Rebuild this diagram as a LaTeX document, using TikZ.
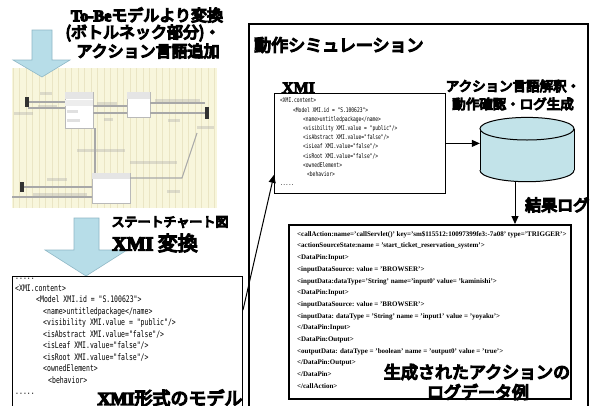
\documentclass[tikz,border=0pt]{standalone}
\usepackage{fontspec}
\setmainfont{Liberation Serif}
\newfontfamily\jp{Noto Sans CJK JP}
\newfontfamily\xmimono{DejaVu Sans Mono}[FakeStretch=0.72]
\usetikzlibrary{arrows.meta,calc}

% heavy strokes for the headline text (fill + outline)
\newcommand\heavy[2][1.3]{\special{pdf:literal direct 2 Tr #1 w}#2\special{pdf:literal direct 0 Tr}}

\definecolor{arrowfill}{HTML}{B7DDE8}
\definecolor{arrowline}{HTML}{8FB8C6}
\definecolor{cylfill}{HTML}{C2E3E9}
\definecolor{chartbg}{HTML}{F8F6DC}
\definecolor{chartgrid}{HTML}{EAE5C4}
\definecolor{chartline}{HTML}{A8A8A8}

\tikzset{
  blockarrow/.style={fill=arrowfill, draw=arrowline, line width=0.6pt},
  codebox/.style={draw, fill=white, anchor=north west, inner sep=0pt},
  codetext/.style={anchor=north west, align=left, inner sep=0pt},
  jlabel/.style={inner sep=0pt, font=\jp},
  link/.style={draw, line width=1pt, -{Triangle[length=8pt,width=7pt]}},
  smudge/.style={fill=chartline, opacity=0.35},
  chartedge/.style={draw=chartline, line width=1.1pt},
  chartstate/.style={draw=chartline!80, fill=white, line width=0.8pt},
}

\begin{document}
\begin{tikzpicture}[x=1pt, y=-1pt]
\useasboundingbox (0,0) rectangle (590,405);
\fill[white] (0,0) rectangle (590,405);

% ---- state chart thumbnail ----
\fill[chartbg] (12,68) rectangle (217,208);
\begin{scope}
  \clip (12,68) rectangle (217,208);
  \draw[chartgrid, line width=0.4pt, step=6.5] (12,68) grid (217,208);
\end{scope}
% states
\filldraw[chartstate] (65,92) rectangle (93,128);
\fill[gray!20] (65,92) rectangle (93,99);
\fill[gray!14] (65,100) rectangle (93,106);
\fill[smudge] (67,110) rectangle (78,112.5);
\fill[smudge] (67,119) rectangle (80,121.5);
\filldraw[chartstate] (127,92) rectangle (150,117);
\fill[gray!20] (127,92) rectangle (150,99);
\filldraw[chartstate] (92,173) rectangle (130,203);
\fill[gray!20] (92,173) rectangle (130,179);
% transitions
\draw[chartedge] (28,102) -- (65,102);
\draw[chartedge] (28,108) -- (65,108);
\draw[chartedge] (93,106) -- (127,106);
\draw[chartedge] (93,113) -- (127,113);
\draw[chartedge] (150,103) -- (205,103);
\draw[chartedge] (150,113) -- (205,113);
\draw[chartedge] (95,128) -- (95,173);
\draw[chartedge] (197,133) -- (182,178) -- (130,178);
\draw[chartedge] (24,187) -- (92,187);
\draw[chartedge] (12,197) -- (92,197);
% initial / final markers
\fill[black!80] (24.5,97) rectangle (28.5,107);
\fill[black!80] (205,107) rectangle (209,119);
\fill[black!80] (20,182) rectangle (24,192);
% blurred transition labels
\fill[smudge] (40,92) rectangle (52,95);
\fill[smudge] (14,112) rectangle (33,115);
\fill[smudge] (38,105) rectangle (57,107.5);
\fill[smudge] (97,102) rectangle (117,104.5);
\fill[smudge] (104,118) rectangle (113,120.5);
\fill[smudge] (155,99) rectangle (200,101.5);
\fill[smudge] (168,119) rectangle (180,121.5);
\fill[smudge] (197,126) rectangle (214,128.5);
\fill[smudge] (77,149) rectangle (125,151.5);
\fill[smudge] (130,161) rectangle (177,163.5);
\fill[smudge] (47,178) rectangle (67,180.5);
\fill[smudge] (33,193) rectangle (87,195.5);
\fill[smudge] (167,190) rectangle (180,192.5);

% ---- block arrows ----
\path[blockarrow] (32,30) -- (52,30) -- (52,60) -- (70,60) -- (42,77)
  -- (13,60) -- (32,60) -- cycle;
\path[blockarrow] (74,218) -- (99,218) -- (99,250) -- (127,250) -- (86,276)
  -- (45,250) -- (74,250) -- cycle;

% ---- left column labels ----
\node[jlabel] (convT1) at (147,15)
  {\fontsize{16}{18}\selectfont\heavy{{\rmfamily\bfseries To-Be}モデルより変換}};
\node[jlabel] (convT2) at (143,33)
  {\fontsize{16}{18}\selectfont\heavy{(ボトルネック部分)・}};
\node[jlabel] (convT3) at (148,51)
  {\fontsize{16}{18}\selectfont\heavy{アクション言語追加}};
\node[jlabel] (chartT) at (170,222)
  {\fontsize{13}{15}\selectfont\heavy[1.1]{ステートチャート図}};
\node[jlabel] (xmiConv) at (155,243)
  {\fontsize{20}{22}\selectfont\heavy{{\rmfamily\bfseries XMI} 変換}};

% ---- XMI model (left) ----
\node[codebox, line width=1pt, minimum width=230, minimum height=145]
  (xmiL) at (12,276) {};
\node[codetext, font=\xmimono\fontsize{9}{11.5}\selectfont] (xmiLcode) at (15,278) {%
.....\\
<XMI.content>\\
\hspace*{21pt}<Model XMI.id = "S.100623">\\
\hspace*{28pt}<name>untitledpackage</name>\\
\hspace*{28pt}<visibility XMI.value = "public"/>\\
\hspace*{28pt}<isAbstract XMI.value="false"/>\\
\hspace*{28pt}<isLeaf XMI.value="false"/>\\
\hspace*{28pt}<isRoot XMI.value="false"/>\\
\hspace*{28pt}<ownedElement>\\
\hspace*{33pt}<behavior>\\
.....};
\node[jlabel] (xmiLT) at (170,398)
  {\fontsize{18}{20}\selectfont\heavy{{\rmfamily\bfseries XMI}形式のモデル}};

% ---- simulation frame ----
\node[draw, line width=1.5pt, anchor=north west, inner sep=0pt,
  minimum width=339, minimum height=400] (sim) at (248,23) {};
\node[jlabel, anchor=west] (simT) at (254,45)
  {\fontsize{17}{20}\selectfont\heavy{動作シミュレーション}};

\node[inner sep=0pt, anchor=base, font=\rmfamily\bfseries\fontsize{16}{18}\selectfont]
  (xmiLab) at (298.5,93) {\heavy[0.8]{XMI}};
\node[codebox, line width=0.8pt, minimum width=171, minimum height=100]
  (xmiI) at (274,93) {};
\node[codetext, font=\xmimono\fontsize{6.4}{9.2}\selectfont] (xmiIcode) at (280,92.5) {%
.....\\
<XMI.content>\\
\hspace*{13pt}<Model XMI.id = "S.100623">\\
\hspace*{23pt}<name>untitledpackage</name>\\
\hspace*{23pt}<visibility XMI.value = "public"/>\\
\hspace*{23pt}<isAbstract XMI.value="false"/>\\
\hspace*{23pt}<isLeaf XMI.value="false"/>\\
\hspace*{23pt}<isRoot XMI.value="false"/>\\
\hspace*{23pt}<ownedElement>\\
\hspace*{27pt}<behavior>\\
.....};

% interpreter (cylinder)
\node[inner sep=0pt, minimum width=94, minimum height=64.4] (db) at (527,149.5) {};
\fill[cylfill] (480,128.7) rectangle (574,170.4);
\fill[cylfill] (527,170.4) ellipse [x radius=47, y radius=11.3];
\begin{scope}
  \clip (470,170.4) rectangle (580,190);
  \draw[line width=1pt] (527,170.4) ellipse [x radius=47, y radius=11.3];
\end{scope}
\draw[line width=1pt] (480,128.7) -- (480,170.4) (574,128.7) -- (574,170.4);
\filldraw[fill=cylfill, line width=1pt] (527,128.7) ellipse [x radius=47, y radius=11.3];

\node[jlabel] (dbT1) at (513,86)
  {\fontsize{13.5}{15}\selectfont\heavy[1.1]{アクション言語解釈・}};
\node[jlabel] (dbT2) at (513,104)
  {\fontsize{13.5}{15}\selectfont\heavy[1.1]{動作確認・ログ生成}};

% ---- action log ----
\node[codebox, line width=2pt, minimum width=282, minimum height=174]
  (log) at (288,224) {};
\node[codetext, font=\rmfamily\bfseries\fontsize{7.0}{11.7}\selectfont] (logcode) at (297,231) {%
<callAction:name='callServlet()' key='sm\$115512:10097399fe3:-7a08' type='TRIGGER'>\\
<actionSourceState:name = 'start\_ticket\_reservation\_system'>\\
<DataPin:Input>\\
<inputDataSource: value = 'BROWSER'>\\
<inputData:dataType='String' name='input0' value= 'kaminishi'>\\
<DataPin:Input>\\
<inputDataSource: value = 'BROWSER'>\\
<inputData: dataType = 'String' name = 'input1' value = 'yoyaku'>\\
</DataPin:Input>\\
<DataPin:Output>\\
<outputData: dataType = 'boolean' name = 'output0' value = 'true'>\\
</DataPin:Output>\\
</DataPin>\\
</callAction>};
\node[jlabel] (logT1) at (477,372)
  {\fontsize{17}{19}\selectfont\heavy{生成されたアクションの}};
\node[jlabel] (logT2) at (478,392)
  {\fontsize{17}{19}\selectfont\heavy{ログデータ例}};

% ---- connectors ----
\coordinate (xmiOut) at ($(xmiL.north east)+(0,34)$);
\coordinate (xmiIn) at ($(xmiI.south west)+(0,-19)$);
\path[link] (xmiOut) -- (xmiIn);
\path[link] (xmiI.east) -- (xmiI.east -| db.west);
\coordinate (dbOut) at ($(db.south)+(-12,0)$);
\path[link] (dbOut) -- (dbOut |- log.north);
\node[jlabel, anchor=west] (logLab) at (525,205)
  {\fontsize{16}{18}\selectfont\heavy{結果ログ}};
\end{tikzpicture}
\end{document}
